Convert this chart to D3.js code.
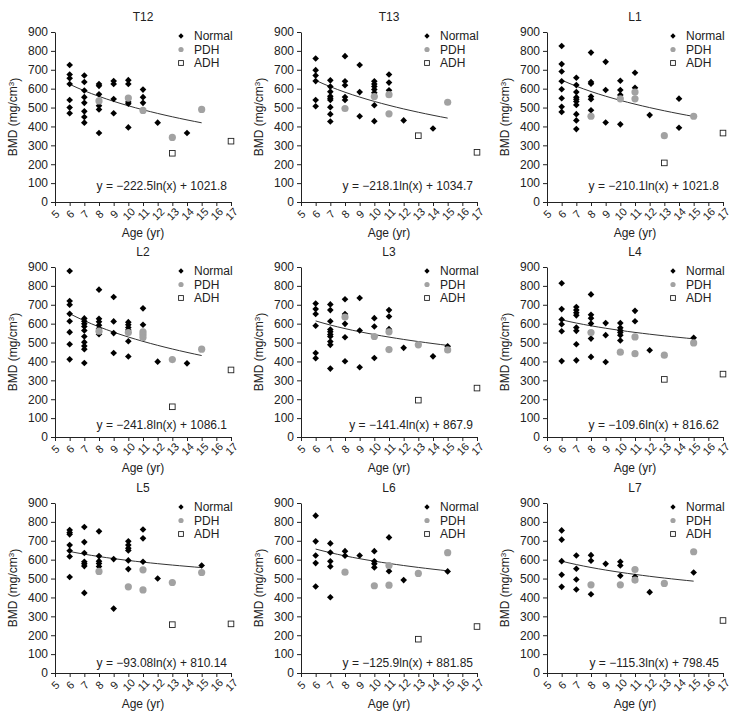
<!DOCTYPE html>
<html>
<head>
<meta charset="utf-8">
<script src="https://cdn.jsdelivr.net/npm/d3@7"></script>
<style>
  body { margin: 0; background: #fff; }
  text { font-family: "Liberation Sans", Arial, sans-serif; fill: #222; }
</style>
</head>
<body>
<div id="chart"></div>
<script>
// each group is [age, [BMD values]]
const t12Normal = [[6,[725,675,655,625,540,500,470]],[7,[670,635,590,555,525,480,450,420]],[8,[625,615,570,510,490,365]],[9,[640,625,545,470]],[10,[645,625,530,520,395]],[11,[595,555,525]],[12,[420]],[14,[365]]];
const t12Pdh = [[8,[535]],[10,[550]],[11,[485]],[13,[342]],[15,[490]]];
const t12Adh = [[13,[258]],[17,[322]]];

const t13Normal = [[6,[760,698,670,640,540,507]],[7,[644,611,584,560,549,540,502,465,426]],[8,[772,639,618,556,540]],[9,[725,582,454]],[10,[639,625,612,596,579,512,428]],[11,[675,632,591]],[12,[432]],[14,[389]]];
const t13Pdh = [[8,[495]],[10,[558]],[11,[568,467]],[15,[528]]];
const t13Adh = [[13,[351]],[17,[263]]];

const l1Normal = [[6,[826,730,691,639,597,549,504,477]],[7,[658,619,582,554,544,532,514,465,432,386]],[8,[791,635,626,558,544,486]],[9,[742,593,421]],[10,[642,593,567,411]],[11,[684,605]],[12,[460]],[14,[547,393]]];
const l1Pdh = [[8,[454]],[10,[546]],[11,[582,546]],[13,[351]],[15,[454]]];
const l1Adh = [[13,[207]],[17,[365]]];

const l2Normal = [[6,[879,720,700,652,613,555,491,411]],[7,[628,613,599,585,564,532,502,482,465,392]],[8,[780,626,610,592,574,544]],[9,[741,612,550,445]],[10,[608,594,580,567,507,426]],[11,[681,594]],[12,[399]],[14,[390]]];
const l2Pdh = [[8,[560]],[10,[553]],[11,[557,543,527]],[13,[410]],[15,[465]]];
const l2Adh = [[13,[160]],[17,[355]]];

const l3Normal = [[6,[707,677,651,589,445,417]],[7,[702,672,613,569,557,543,532,505,488,362]],[8,[729,651,599,528,401]],[9,[736,564,369]],[10,[629,585,418]],[11,[672,638,571]],[12,[472]],[14,[427]],[15,[480]]];
const l3Pdh = [[8,[635]],[10,[532]],[11,[557,463]],[13,[488]],[15,[461]]];
const l3Adh = [[13,[195]],[17,[259]]];

const l4Normal = [[6,[814,677,622,597,560,402]],[7,[688,672,658,644,580,562,491,406]],[8,[755,647,629,601,521,424]],[9,[603,539,397]],[10,[603,578,564,553,539,511]],[11,[668,613]],[12,[459]],[15,[525]]];
const l4Pdh = [[8,[553]],[10,[449]],[11,[530,441]],[13,[433]],[15,[498]]];
const l4Adh = [[13,[305]],[17,[333]]];

const l5Normal = [[6,[757,744,734,677,647,617,508]],[7,[773,693,635,589,578,566,424]],[8,[750,619,592,580,564]],[9,[603,341]],[10,[697,677,661,649,596,550]],[11,[760,713,589]],[12,[500]],[15,[569]]];
const l5Pdh = [[8,[538]],[10,[456]],[11,[546,440]],[13,[479]],[15,[532]]];
const l5Adh = [[13,[256]],[17,[260]]];

const l6Normal = [[6,[833,697,622,582,458]],[7,[686,638,591,564,401]],[8,[645,621]],[9,[622]],[10,[645,591,578,559]],[11,[718,539]],[12,[492]],[15,[538]]];
const l6Pdh = [[8,[534]],[10,[462]],[11,[569,465]],[13,[527]],[15,[637]]];
const l6Adh = [[13,[179]],[17,[246]]];

const l7Normal = [[6,[755,706,592,520,456]],[7,[622,552,495,442]],[8,[624,594,417]],[9,[578]],[10,[589,569,515]],[11,[509]],[12,[428]],[15,[532]]];
const l7Pdh = [[8,[467]],[10,[467]],[11,[548,492]],[13,[474]],[15,[642]]];
const l7Adh = [[17,[278]]];

const panelNames = ["T12","T13","L1","L2","L3","L4","L5","L6","L7"];
const normalSets = [t12Normal,t13Normal,l1Normal,l2Normal,l3Normal,l4Normal,l5Normal,l6Normal,l7Normal];
const pdhSets = [t12Pdh,t13Pdh,l1Pdh,l2Pdh,l3Pdh,l4Pdh,l5Pdh,l6Pdh,l7Pdh];
const adhSets = [t12Adh,t13Adh,l1Adh,l2Adh,l3Adh,l4Adh,l5Adh,l6Adh,l7Adh];

// log trendline y = a ln(x) + b, drawn over ages 6..15
const slopes = [-222.5,-218.1,-210.1,-241.8,-141.4,-109.6,-93.08,-125.9,-115.3];
const intercepts = [1021.8,1034.7,1021.8,1086.1,867.9,816.62,810.14,881.85,798.45];
const equations = ["y = \u2212222.5ln(x) + 1021.8","y = \u2212218.1ln(x) + 1034.7","y = \u2212210.1ln(x) + 1021.8",
  "y = \u2212241.8ln(x) + 1086.1","y = \u2212141.4ln(x) + 867.9","y = \u2212109.6ln(x) + 816.62",
  "y = \u221293.08ln(x) + 810.14","y = \u2212125.9ln(x) + 881.85","y = \u2212115.3ln(x) + 798.45"];
const trendAges = [6,6.5,7,7.5,8,8.5,9,9.5,10,10.5,11,11.5,12,12.5,13,13.5,14,14.5,15];

const ageTicks = [5,6,7,8,9,10,11,12,13,14,15,16,17];
const bmdTicks = [0,100,200,300,400,500,600,700,800,900];
const legendLabels = ["Normal","PDH","ADH"];

// layout
const width = 735, height = 720;
const colX = [55, 301, 547];
const rowY = [32, 267, 503];
const eqOffset = [12, 8, 6];
const pw = 176, ph = 170;
const grey = "#a2a2a2";

const svg = d3.select("#chart").append("svg")
  .attr("width", width)
  .attr("height", height);

const flat = sets => sets.flatMap(([age, vals]) => vals.map(v => [age, v]));
const diamond = d3.symbol(d3.symbolSquare, 22);

panelNames.forEach((name, i) => {
  const col = i % 3, row = Math.floor(i / 3);
  const g = svg.append("g").attr("transform", `translate(${colX[col]},${rowY[row]})`);

  const x = d3.scaleLinear().domain([5, 17]).range([0, pw]);
  const y = d3.scaleLinear().domain([0, 900]).range([ph, 0]);

  // Y axis
  const ya = g.append("g")
    .call(d3.axisLeft(y).tickValues(bmdTicks).tickSize(4).tickSizeOuter(0));
  ya.selectAll("text").style("font-size", "12px").attr("x", -7);

  // X axis
  const xa = g.append("g")
    .attr("transform", `translate(0,${ph})`)
    .call(d3.axisBottom(x).tickValues(ageTicks).tickSize(4).tickSizeOuter(0));
  xa.selectAll("text")
    .style("font-size", "11px")
    .style("text-anchor", "middle")
    .attr("y", 12).attr("dy", "0.35em")
    .attr("transform", "rotate(-45,0,12)");

  g.selectAll(".domain, .tick line").style("stroke", "#222");
  g.selectAll(".tick text").style("fill", "#222");

  // trendline
  const line = d3.line()
    .x(a => x(a))
    .y(a => y(slopes[i] * Math.log(a) + intercepts[i]));
  g.append("path")
    .attr("d", line(trendAges))
    .attr("fill", "none")
    .attr("stroke", "#333")
    .attr("stroke-width", 1);

  // points
  g.selectAll(".normal")
    .data(flat(normalSets[i]))
    .enter().append("path")
    .attr("class", "normal")
    .attr("d", diamond)
    .attr("transform", d => `translate(${x(d[0])},${y(d[1])}) rotate(45)`)
    .attr("fill", "#000");

  g.selectAll(".pdh")
    .data(flat(pdhSets[i]))
    .enter().append("circle")
    .attr("class", "pdh")
    .attr("cx", d => x(d[0]))
    .attr("cy", d => y(d[1]))
    .attr("r", 3.6)
    .attr("fill", grey);

  g.selectAll(".adh")
    .data(flat(adhSets[i]))
    .enter().append("rect")
    .attr("class", "adh")
    .attr("x", d => x(d[0]) - 2.8)
    .attr("y", d => y(d[1]) - 2.8)
    .attr("width", 5.6)
    .attr("height", 5.6)
    .attr("fill", "#fff")
    .attr("stroke", "#222")
    .attr("stroke-width", 0.9);

  // title
  g.append("text")
    .attr("x", pw / 2)
    .attr("y", -11)
    .attr("text-anchor", "middle")
    .style("font-size", "12px")
    .text(name);

  // equation
  g.append("text")
    .attr("x", 172)
    .attr("y", ph - eqOffset[row])
    .attr("text-anchor", "end")
    .style("font-size", "12px")
    .text(equations[i]);

  // axis titles
  const yl = g.append("text")
    .attr("transform", `translate(-42,${ph / 2}) rotate(-90)`)
    .attr("text-anchor", "middle")
    .attr("dy", "0.35em")
    .style("font-size", "12px");
  yl.append("tspan").text("BMD (mg/cm");
  yl.append("tspan").text("3").attr("dy", "-0.45em").style("font-size", "8px");
  yl.append("tspan").text(")").attr("dy", "0.45em");

  g.append("text")
    .attr("x", pw / 2)
    .attr("y", ph + 35)
    .attr("text-anchor", "middle")
    .style("font-size", "12px")
    .text("Age (yr)");

  // legend
  const lg = g.append("g").attr("transform", "translate(126,4)");
  legendLabels.forEach((lab, k) => {
    const row = lg.append("g").attr("transform", `translate(0,${k * 13.5})`);
    if (k === 0) {
      row.append("path").attr("d", d3.symbol(d3.symbolSquare, 14)).attr("transform", "rotate(45)").attr("fill", "#000");
    } else if (k === 1) {
      row.append("circle").attr("r", 2.6).attr("fill", grey);
    } else {
      row.append("rect").attr("x", -2.4).attr("y", -2.4).attr("width", 4.8).attr("height", 4.8)
        .attr("fill", "#fff").attr("stroke", "#222").attr("stroke-width", 0.9);
    }
    row.append("text")
      .attr("x", 13)
      .attr("dy", "0.35em")
      .style("font-size", "12px")
      .text(lab);
  });
});
</script>
</body>
</html>
